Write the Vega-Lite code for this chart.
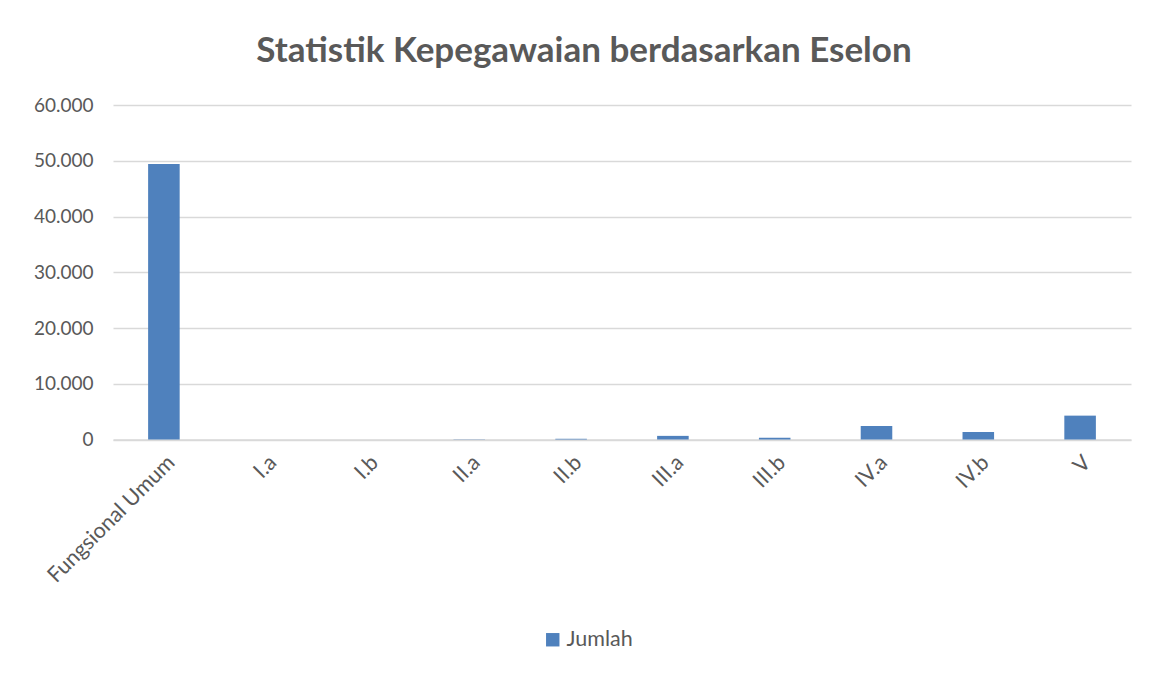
{
  "$schema": "https://vega.github.io/schema/vega-lite/v6.json",
  "autosize": {"type": "none"},
  "width": 1018,
  "height": 334.5,
  "padding": {"left": 113, "top": 105, "right": 27, "bottom": 235.5},
  "background": "white",
  "config": {
    "font": "Lato",
    "view": {"stroke": null},
    "locale": {"number": {"decimal": ",", "thousands": ".", "grouping": [3], "currency": ["", ""]}}
  },
  "title": {
    "text": "Statistik Kepegawaian berdasarkan Eselon",
    "font": "Lato",
    "fontSize": 35,
    "fontWeight": "bold",
    "color": "#595959",
    "anchor": "middle",
    "dx": -38,
    "offset": 27
  },
  "data": {
    "values": [
      {"eselon": "Fungsional Umum", "jumlah": 49400, "seri": "Jumlah"},
      {"eselon": "I.a", "jumlah": 2, "seri": "Jumlah"},
      {"eselon": "I.b", "jumlah": 10, "seri": "Jumlah"},
      {"eselon": "II.a", "jumlah": 60, "seri": "Jumlah"},
      {"eselon": "II.b", "jumlah": 130, "seri": "Jumlah"},
      {"eselon": "III.a", "jumlah": 650, "seri": "Jumlah"},
      {"eselon": "III.b", "jumlah": 320, "seri": "Jumlah"},
      {"eselon": "IV.a", "jumlah": 2430, "seri": "Jumlah"},
      {"eselon": "IV.b", "jumlah": 1350, "seri": "Jumlah"},
      {"eselon": "V", "jumlah": 4280, "seri": "Jumlah"}
    ]
  },
  "mark": {"type": "bar"},
  "encoding": {
    "x": {
      "field": "eselon",
      "type": "nominal",
      "sort": null,
      "scale": {"paddingInner": 0.69, "paddingOuter": 0.345},
      "axis": {
        "title": null,
        "labelAngle": -45,
        "labelFontSize": 21.5,
        "labelColor": "#595959",
        "labelFont": "Lato",
        "ticks": false,
        "labelPadding": 12,
        "domainColor": "#d9d9d9",
        "domainWidth": 1.5,
        "grid": false
      }
    },
    "y": {
      "field": "jumlah",
      "type": "quantitative",
      "scale": {"domain": [0, 60000], "nice": false},
      "axis": {
        "title": null,
        "values": [0, 10000, 20000, 30000, 40000, 50000, 60000],
        "format": ",d",
        "labelFontSize": 19,
        "labelColor": "#595959",
        "labelFont": "Lato",
        "labelPadding": 20,
        "ticks": false,
        "domain": false,
        "gridColor": "#d9d9d9",
        "gridWidth": 1.5
      }
    },
    "color": {
      "field": "seri",
      "type": "nominal",
      "scale": {"range": ["#4F81BD"]},
      "legend": {
        "title": null,
        "orient": "none",
        "legendX": 429,
        "legendY": 524,
        "symbolType": "square",
        "symbolSize": 180,
        "symbolStrokeWidth": 0,
        "labelFontSize": 21.5,
        "labelOffset": 3,
        "labelColor": "#595959",
        "labelFont": "Lato"
      }
    }
  }
}
